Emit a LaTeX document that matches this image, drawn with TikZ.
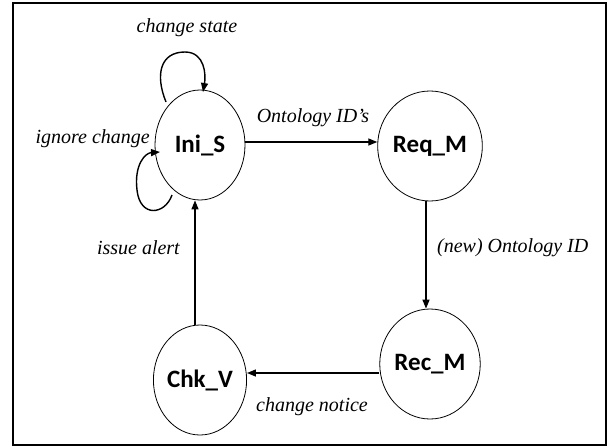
\documentclass[tikz,border=0pt]{standalone}
\usepackage{fontspec}
\setmainfont{Liberation Serif}
\newfontfamily\nodefont{Carlito}
\usetikzlibrary{arrows.meta,shapes.geometric}
\begin{document}
\begin{tikzpicture}[x=1pt,y=-1pt,
  state/.style={draw, line width=0.8pt, ellipse, minimum width=90pt, minimum height=110pt, inner sep=0pt, font=\nodefont\bfseries\fontsize{25}{27}\selectfont},
  conn/.style={line width=1.4pt, -{Triangle[length=9pt,width=7pt]}},
  lbl/.style={font=\itshape\fontsize{20}{22}\selectfont, inner sep=0pt}]
\path[use as bounding box] (0,0) rectangle (613,447);
\draw[line width=1.5pt] (13,3) rectangle (606,445);
\node[state] (ini) at (200,145) {Ini\_S};
\node[state] (req) at (430,146) {Req\_M};
\node[state] (rec) at (430,364) {Rec\_M};
\node[state] (chk) at (200,380) {Chk\_V};
\draw[conn] (ini.east |- 0,142) -- (req.west |- 0,142);
\draw[conn] (req.south -| 426,0) -- (rec.north -| 426,0);
\draw[conn] (rec.west |- 0,373) -- (chk.east |- 0,373);
\draw[conn] (chk.north -| 195,0) -- (ini.south -| 195,0);
\coordinate (ts) at (166,102);
\coordinate (te) at (203,92);
\draw[conn] (ts) .. controls (155,75) and (160,52) .. (185,52) .. controls (205,52) and (206,75) .. (te);
\coordinate (ls) at (172,195);
\coordinate (le) at (160,152);
\draw[conn] (ls) .. controls (165,215) and (140,218) .. (137,190) .. controls (134,165) and (145,153) .. (le);
\node[lbl] (l1) at (187,28) {change state};
\node[lbl] (l2) at (313,118) {Ontology ID’s};
\node[lbl, anchor=east] (l3) at (150,139) {ignore change};
\node[lbl, anchor=east] (l4) at (180,248) {issue alert};
\node[lbl, anchor=west] (l5) at (437,248) {(new) Ontology ID};
\node[lbl] (l6) at (312,407) {change notice};
\end{tikzpicture}
\end{document}
